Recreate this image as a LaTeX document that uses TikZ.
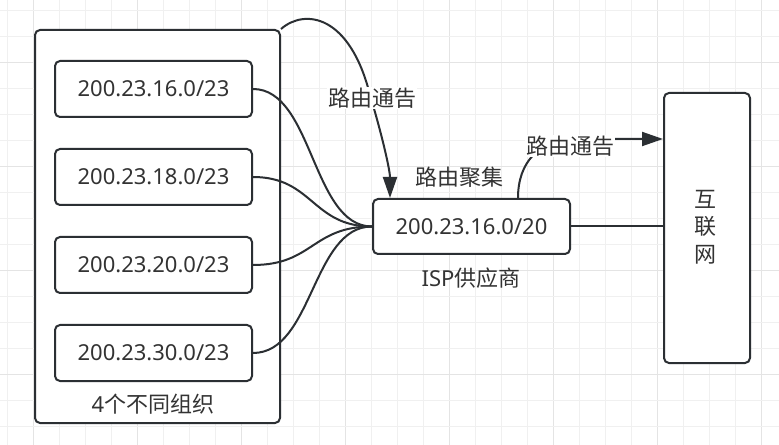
\documentclass[tikz,border=0pt]{standalone}
\usepackage{fontspec}
\setmainfont{Noto Sans}
\newfontfamily\cjk{Noto Sans CJK SC}
\usetikzlibrary{arrows.meta}
\definecolor{ln}{HTML}{2B2F33}
\definecolor{tx}{HTML}{333333}
\definecolor{gridminor}{HTML}{F0F0F0}
\definecolor{gridmajor}{HTML}{E4E4E4}
\begin{document}
\begin{tikzpicture}[x=1bp,y=-1bp,
  font=\fontsize{22bp}{26bp}\selectfont,
  box/.style={draw=ln, line width=2bp, rounded corners=5bp, fill=white, text=tx, inner sep=0pt, anchor=north west},
  conn/.style={draw=ln, line width=2bp},
  lbl/.style={text=tx, fill=white, inner sep=1bp},
  plain/.style={text=tx, inner sep=0pt},
  tip/.style={-{Triangle[length=21bp,width=14bp]}}]
\useasboundingbox (0,0) rectangle (779,445);
\fill[white] (0,0) rectangle (779,445);
% grid
\foreach \k in {0,...,29}{
  \pgfmathsetmacro{\gx}{7.3+26*\k}
  \pgfmathtruncatemacro{\mj}{mod(\k+3,4)==0}
  \ifnum\mj=1 \draw[gridmajor, line width=1bp] (\gx,0) -- (\gx,445);
  \else \draw[gridminor, line width=1bp] (\gx,0) -- (\gx,445); \fi
}
\foreach \k in {0,...,16}{
  \pgfmathsetmacro{\gy}{10.5+26*\k}
  \pgfmathtruncatemacro{\mj}{mod(\k+2,4)==0}
  \ifnum\mj=1 \draw[gridmajor, line width=1bp] (0,\gy) -- (779,\gy);
  \else \draw[gridminor, line width=1bp] (0,\gy) -- (779,\gy); \fi
}
% boxes
\node[box, minimum width=245bp, minimum height=393bp] (org) at (34,29) {};
\node[plain] (orglbl) at (153,404) {4{\cjk 个不同组织}};
\node[box, minimum width=197bp, minimum height=56bp] (b1) at (54,60) {200.23.16.0/23};
\node[box, minimum width=197bp, minimum height=56bp] (b2) at (54,148) {200.23.18.0/23};
\node[box, minimum width=197bp, minimum height=56bp] (b3) at (54,236) {200.23.20.0/23};
\node[box, minimum width=197bp, minimum height=56bp] (b4) at (54,324) {200.23.30.0/23};
\node[box, minimum width=197bp, minimum height=55bp] (isp) at (372,198) {200.23.16.0/20};
\node[box, minimum width=86bp, minimum height=270bp] (inet) at (663,92) {};
\node[plain, align=center, font=\fontsize{22bp}{27.5bp}\selectfont\cjk] (inetlbl) at (705,227) {互\\联\\网};
\node[plain] (agg) at (459,177) {\cjk 路由聚集};
\node[plain] (ispname) at (471,278) {ISP{\cjk 供应商}};
% connectors
\foreach \b in {b1,b2,b3,b4}{
  \draw[conn] (\b.east) .. controls +(60,0) and +(-60,0) .. (isp.west);
}
\draw[conn] (isp.east) -- (isp.east -| inet.west);
\coordinate (ispA) at (390,198);
\coordinate (ispB) at (518,198);
\coordinate (inetA) at (663,139);
\draw[conn, tip] (org.north east) .. controls (305,8) and (350,15) .. (370,95)
  .. controls (382,135) and (390,170) .. (ispA);
\node[lbl] (adv1) at (372,98) {\cjk 路由通告};
\draw[conn, tip] (ispB) .. controls (518,163) and (538,139) .. (578,139) -- (inetA);
\node[lbl] (adv2) at (570,146) {\cjk 路由通告};
\end{tikzpicture}
\end{document}
